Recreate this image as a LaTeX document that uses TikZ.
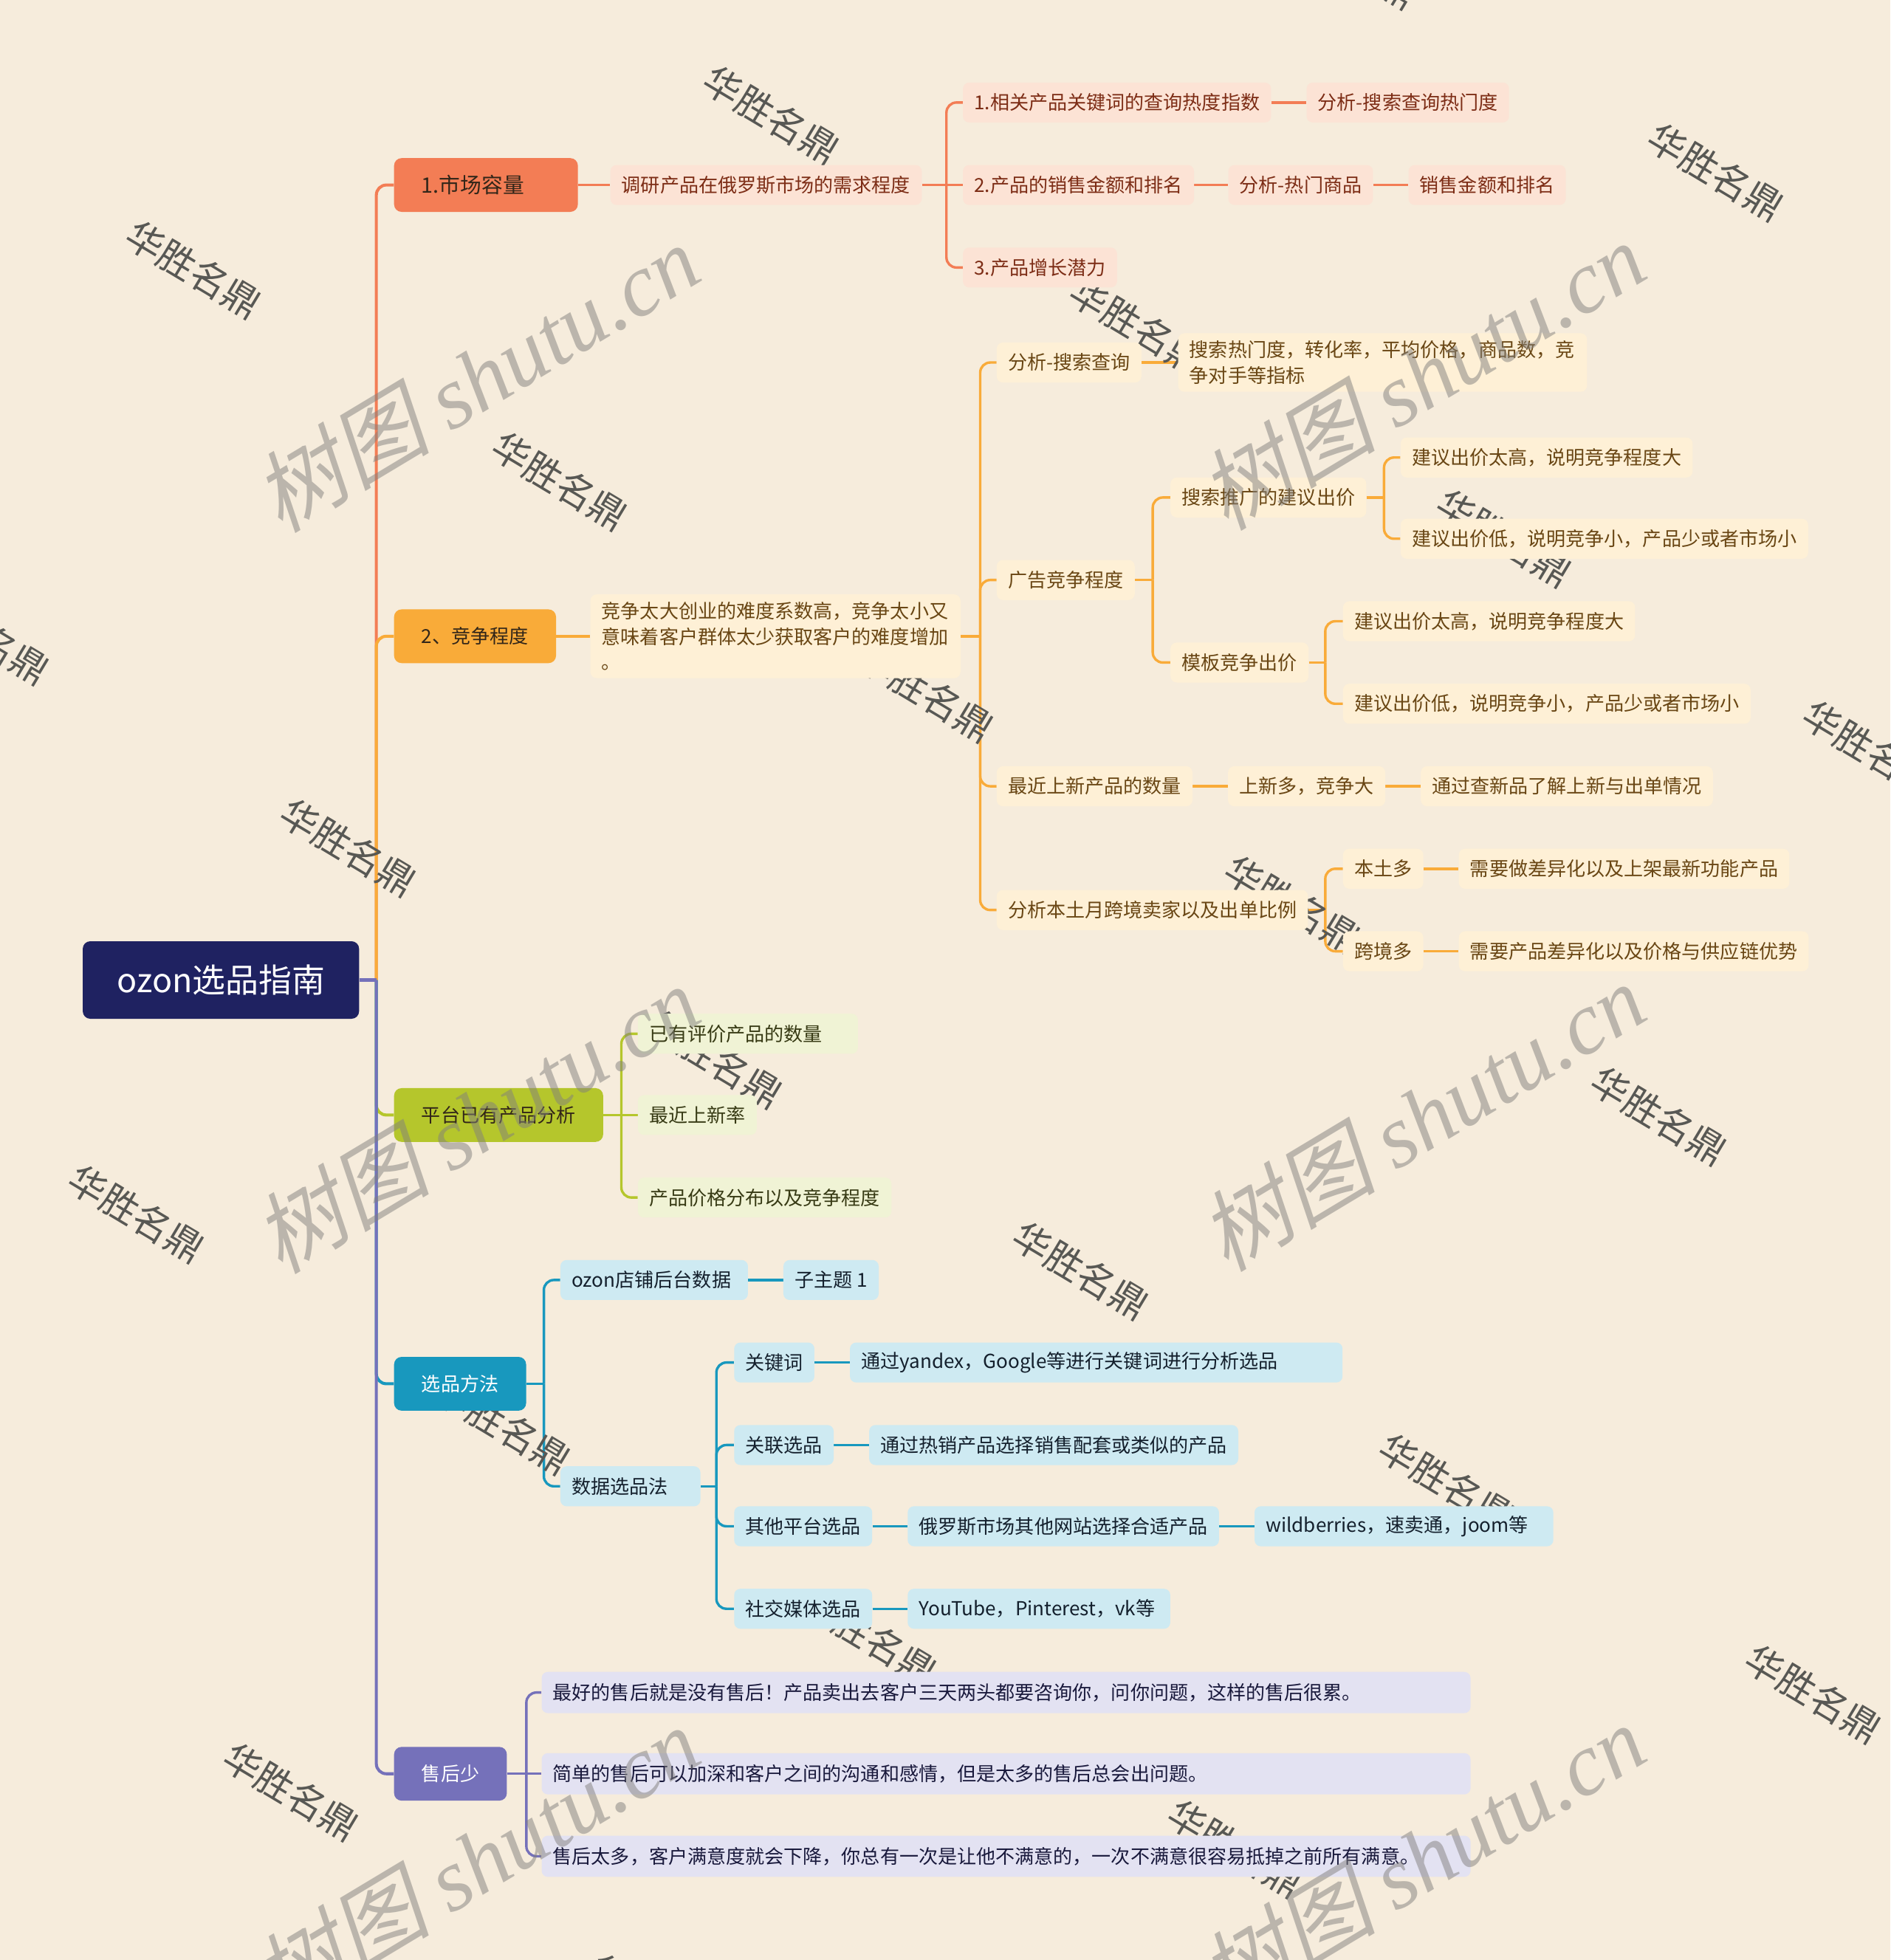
\documentclass[tikz,border=0pt]{standalone}
\usepackage{fontspec}
\setmainfont{Noto Sans CJK SC}
\newfontfamily\wmserif{Liberation Serif}
\newfontfamily\wmcjk{Noto Sans CJK SC}[FakeSlant=0.22]
\definecolor{bgc}{RGB}{246,236,220}
\definecolor{rootc}{RGB}{31,34,97}
\definecolor{c1}{RGB}{243,125,85}
\definecolor{c1sub}{RGB}{252,227,213}
\definecolor{c1txt}{RGB}{125,45,22}
\definecolor{c2}{RGB}{249,171,57}
\definecolor{c2sub}{RGB}{254,240,214}
\definecolor{c2txt}{RGB}{105,70,20}
\definecolor{c3}{RGB}{181,198,44}
\definecolor{c3sub}{RGB}{240,243,213}
\definecolor{c3txt}{RGB}{55,58,20}
\definecolor{c4}{RGB}{24,152,190}
\definecolor{c4sub}{RGB}{206,234,242}
\definecolor{c4txt}{RGB}{20,32,45}
\definecolor{c5}{RGB}{117,113,186}
\definecolor{c5sub}{RGB}{227,226,242}
\definecolor{c5txt}{RGB}{25,25,60}
\definecolor{ltxt}{RGB}{50,38,25}
\definecolor{wmgray}{RGB}{88,88,84}
\definecolor{wmlight}{RGB}{130,128,125}
\newcommand\myfsA{\fontsize{15.4pt}{20.5pt}\selectfont}
\newcommand\myfsB{\fontsize{17pt}{20pt}\selectfont}
\newcommand\myfsR{\fontsize{26.5pt}{30pt}\selectfont}
\newcommand\myfsW{\fontsize{30pt}{32pt}\selectfont}
\newcommand\myfsS{\fontsize{71pt}{76pt}\selectfont}
\pgfdeclarelayer{bglayer}
\pgfdeclarelayer{lines}
\pgfdeclarelayer{wmlow}
\pgfdeclarelayer{wmtop}
\pgfsetlayers{bglayer,lines,wmlow,main,wmtop}
\tikzset{
  rootbox/.style={fill=rootc, text=white, rounded corners=6pt, anchor=west, minimum width=221pt, minimum height=62pt, inner sep=0pt, font=\myfsR},
  mainbox/.style={rounded corners=6pt, anchor=west, minimum height=43pt, inner xsep=22pt, inner ysep=0pt, font=\myfsA, text=ltxt},
  subbox/.style={rounded corners=5pt, anchor=west, minimum height=32pt, inner xsep=9pt, inner ysep=0pt, font=\myfsA},
  sA/.style={subbox, fill=c1sub, text=c1txt},
  sB/.style={subbox, fill=c2sub, text=c2txt},
  sC/.style={subbox, fill=c3sub, text=c3txt},
  sD/.style={subbox, fill=c4sub, text=c4txt},
  sE/.style={subbox, fill=c5sub, text=c5txt, minimum height=33pt},
  lkmain/.style={line width=2.4pt, rounded corners=8pt},
  lk/.style={line width=2pt, rounded corners=8pt},
  wmA/.style={text=wmgray, font=\myfsW, rotate=-31, inner sep=0pt},
  wmB/.style={text=wmlight, text opacity=0.5, font=\myfsS, rotate=31, inner sep=0pt},
}
\begin{document}
\begin{tikzpicture}[x=1pt,y=-1pt]
\useasboundingbox (0,0) rectangle (1512,1568);
\begin{pgfonlayer}{bglayer}
\fill[bgc] (0,0) rectangle (1512,1568);
\end{pgfonlayer}

% root and main topics
\node[rootbox] (root) at (66,784) {ozon选品指南};
\node[mainbox, fill=c1, font=\myfsB, text width=103pt, align=left] (b1) at (315,148) {1.市场容量};
\node[mainbox, fill=c2] (b2) at (315,509) {2、竞争程度};
\node[mainbox, fill=c3] (b3) at (315,892) {平台已有产品分析};
\node[mainbox, fill=c4, text=white] (b4) at (315,1107) {选品方法};
\node[mainbox, fill=c5, text=white] (b5) at (315,1419) {售后少};

% branch 1
\node[sA] (m1) at (488,148) {调研产品在俄罗斯市场的需求程度};
\node[sA] (m1a) at (770,82) {1.相关产品关键词的查询热度指数};
\node[sA] (m1a2) at ([xshift=28pt]m1a.east) {分析-搜索查询热门度};
\node[sA] (m1b) at (770,148) {2.产品的销售金额和排名};
\node[sA] (m1b2) at ([xshift=27pt]m1b.east) {分析-热门商品};
\node[sA] (m1b3) at ([xshift=28pt]m1b2.east) {销售金额和排名};
\node[sA] (m1c) at (770,214) {3.产品增长潜力};

% branch 2
\node[sB, text width=278pt, align=left, inner ysep=6pt] (m2) at (472,509) {竞争太大创业的难度系数高，竞争太小又\\意味着客户群体太少获取客户的难度增加\\。};
\node[sB] (n1) at (797,290) {分析-搜索查询};
\node[sB, text width=309pt, align=left, inner ysep=6pt] (n1b) at ([xshift=29pt]n1.east) {搜索热门度，转化率，平均价格，商品数，竞\\争对手等指标};
\node[sB] (n2) at (797,464) {广告竞争程度};
\node[sB] (n2a) at (936,398) {搜索推广的建议出价};
\node[sB] (n2a1) at (1120,366) {建议出价太高，说明竞争程度大};
\node[sB] (n2a2) at (1120,431) {建议出价低，说明竞争小，产品少或者市场小};
\node[sB] (n2b) at (936,530) {模板竞争出价};
\node[sB] (n2b1) at (1074,497) {建议出价太高，说明竞争程度大};
\node[sB] (n2b2) at (1074,563) {建议出价低，说明竞争小，产品少或者市场小};
\node[sB] (n3) at (797,629) {最近上新产品的数量};
\node[sB] (n3b) at ([xshift=28pt]n3.east) {上新多，竞争大};
\node[sB] (n3c) at ([xshift=28pt]n3b.east) {通过查新品了解上新与出单情况};
\node[sB] (n4) at (797,728) {分析本土月跨境卖家以及出单比例};
\node[sB] (n4a) at (1074,695) {本土多};
\node[sB] (n4a2) at ([xshift=28pt]n4a.east) {需要做差异化以及上架最新功能产品};
\node[sB] (n4b) at (1074,761) {跨境多};
\node[sB] (n4b2) at ([xshift=28pt]n4b.east) {需要产品差异化以及价格与供应链优势};

% branch 3
\node[sC, text width=158pt, align=left] (p1) at (510,827) {已有评价产品的数量};
\node[sC] (p2) at (510,892) {最近上新率};
\node[sC] (p3) at (510,958) {产品价格分布以及竞争程度};

% branch 4
\node[sD, text width=132pt, align=left] (q1) at (448,1024) {ozon店铺后台数据};
\node[sD] (q1b) at ([xshift=28pt]q1.east) {子主题 1};
\node[sD, text width=94pt, align=left] (q2) at (448,1189) {数据选品法};
\node[sD] (r1) at (587,1090) {关键词};
\node[sD, text width=376pt, align=left] (r1b) at ([xshift=28pt]r1.east) {通过yandex，Google等进行关键词进行分析选品};
\node[sD] (r2) at (587,1156) {关联选品};
\node[sD] (r2b) at ([xshift=28pt]r2.east) {通过热销产品选择销售配套或类似的产品};
\node[sD] (r3) at (587,1221) {其他平台选品};
\node[sD] (r3b) at ([xshift=28pt]r3.east) {俄罗斯市场其他网站选择合适产品};
\node[sD, text width=221pt, align=left] (r3c) at ([xshift=28pt]r3b.east) {wildberries，速卖通，joom等};
\node[sD] (r4) at (587,1287) {社交媒体选品};
\node[sD, text width=192pt, align=left] (r4b) at ([xshift=28pt]r4.east) {YouTube，Pinterest，vk等};

% branch 5
\node[sE, text width=725pt, align=left] (s1) at (433,1354) {最好的售后就是没有售后！产品卖出去客户三天两头都要咨询你，问你问题，这样的售后很累。};
\node[sE, text width=725pt, align=left] (s2) at (433,1419) {简单的售后可以加深和客户之间的沟通和感情，但是太多的售后总会出问题。};
\node[sE, text width=725pt, align=left] (s3) at (433,1485) {售后太多，客户满意度就会下降，你总有一次是让他不满意的，一次不满意很容易抵掉之前所有满意。};

% junction points
\coordinate (jr) at (301,784);
\coordinate (jm1) at (757,148);
\coordinate (jm2) at (784,509);
\coordinate (jn2) at (922,464);
\coordinate (jn2a) at (1107,398);
\coordinate (jn2b) at (1060,530);
\coordinate (jn4) at (1060,728);
\coordinate (j3) at (497,892);
\coordinate (j4) at (435,1107);
\coordinate (jq2) at (573,1189);
\coordinate (j5) at (421,1419);

\begin{pgfonlayer}{lines}
% main branches
\draw[lkmain,c1] (jr) |- (b1.west);
\draw[lkmain,c2] (jr) |- (b2.west);
\draw[lkmain,c3] (jr) |- (b3.west);
\draw[lkmain,c4] (jr) |- (b4.west);
\draw[lkmain,c5] (jr) |- (b5.west);
\draw[lkmain,c5] (root.east) -- (jr);
% branch 1
\draw[lk,c1] (b1.east) -- (m1.west);
\draw[lk,c1] (m1.east) -- (jm1);
\draw[lk,c1] (jm1) |- (m1a.west);
\draw[lk,c1] (jm1) -- (m1b.west);
\draw[lk,c1] (jm1) |- (m1c.west);
\draw[lk,c1] (m1a.east) -- (m1a2.west);
\draw[lk,c1] (m1b.east) -- (m1b2.west);
\draw[lk,c1] (m1b2.east) -- (m1b3.west);
% branch 2
\draw[lk,c2] (b2.east) -- (m2.west);
\draw[lk,c2] (m2.east) -- (jm2);
\draw[lk,c2] (jm2) |- (n1.west);
\draw[lk,c2] (jm2) |- (n2.west);
\draw[lk,c2] (jm2) |- (n3.west);
\draw[lk,c2] (jm2) |- (n4.west);
\draw[lk,c2] (n1.east) -- (n1b.west);
\draw[lk,c2] (n2.east) -- (jn2);
\draw[lk,c2] (jn2) |- (n2a.west);
\draw[lk,c2] (jn2) |- (n2b.west);
\draw[lk,c2] (n2a.east) -- (jn2a);
\draw[lk,c2] (jn2a) |- (n2a1.west);
\draw[lk,c2] (jn2a) |- (n2a2.west);
\draw[lk,c2] (n2b.east) -- (jn2b);
\draw[lk,c2] (jn2b) |- (n2b1.west);
\draw[lk,c2] (jn2b) |- (n2b2.west);
\draw[lk,c2] (n3.east) -- (n3b.west);
\draw[lk,c2] (n3b.east) -- (n3c.west);
\draw[lk,c2] (n4.east) -- (jn4);
\draw[lk,c2] (jn4) |- (n4a.west);
\draw[lk,c2] (jn4) |- (n4b.west);
\draw[lk,c2] (n4a.east) -- (n4a2.west);
\draw[lk,c2] (n4b.east) -- (n4b2.west);
% branch 3
\draw[lk,c3] (b3.east) -- (j3);
\draw[lk,c3] (j3) |- (p1.west);
\draw[lk,c3] (j3) -- (p2.west);
\draw[lk,c3] (j3) |- (p3.west);
% branch 4
\draw[lk,c4] (b4.east) -- (j4);
\draw[lk,c4] (j4) |- (q1.west);
\draw[lk,c4] (j4) |- (q2.west);
\draw[lk,c4] (q1.east) -- (q1b.west);
\draw[lk,c4] (q2.east) -- (jq2);
\draw[lk,c4] (jq2) |- (r1.west);
\draw[lk,c4] (jq2) |- (r2.west);
\draw[lk,c4] (jq2) |- (r3.west);
\draw[lk,c4] (jq2) |- (r4.west);
\draw[lk,c4] (r1.east) -- (r1b.west);
\draw[lk,c4] (r2.east) -- (r2b.west);
\draw[lk,c4] (r3.east) -- (r3b.west);
\draw[lk,c4] (r3b.east) -- (r3c.west);
\draw[lk,c4] (r4.east) -- (r4b.west);
% branch 5
\draw[lk,c5] (b5.east) -- (j5);
\draw[lk,c5] (j5) |- (s1.west);
\draw[lk,c5] (j5) -- (s2.west);
\draw[lk,c5] (j5) |- (s3.west);
\end{pgfonlayer}

% watermarks under the topics
\begin{pgfonlayer}{wmlow}
\begin{scope}
\clip (0,0) rectangle (1512,1568);
\foreach \i in {-1,...,6}{
  \foreach \j in {-1,...,6}{
    \pgfmathsetmacro\wx{617+293*\i-169.3*\j}
    \pgfmathsetmacro\wy{92+169.3*\i+293*\j}
    \ifdim\wx pt>-120pt \ifdim\wx pt<1640pt \ifdim\wy pt>-80pt \ifdim\wy pt<1650pt
      \node[wmA] (wm\i\j) at (\wx,\wy) {华胜名鼎};
    \fi\fi\fi\fi
  }
}
\end{scope}
\end{pgfonlayer}

% watermarks over the topics
\begin{pgfonlayer}{wmtop}
\begin{scope}
\clip (0,0) rectangle (1512,1568);
\node[wmB] (sh1) at (381,302) {{\wmcjk 树图} {\wmserif\itshape shutu.cn}};
\node[wmB] (sh2) at (1137,300) {{\wmcjk 树图} {\wmserif\itshape shutu.cn}};
\node[wmB] (sh3) at (381,895) {{\wmcjk 树图} {\wmserif\itshape shutu.cn}};
\node[wmB] (sh4) at (1137,893) {{\wmcjk 树图} {\wmserif\itshape shutu.cn}};
\node[wmB] (sh5) at (381,1488) {{\wmcjk 树图} {\wmserif\itshape shutu.cn}};
\node[wmB] (sh6) at (1137,1486) {{\wmcjk 树图} {\wmserif\itshape shutu.cn}};
\end{scope}
\end{pgfonlayer}
\end{tikzpicture}
\end{document}
